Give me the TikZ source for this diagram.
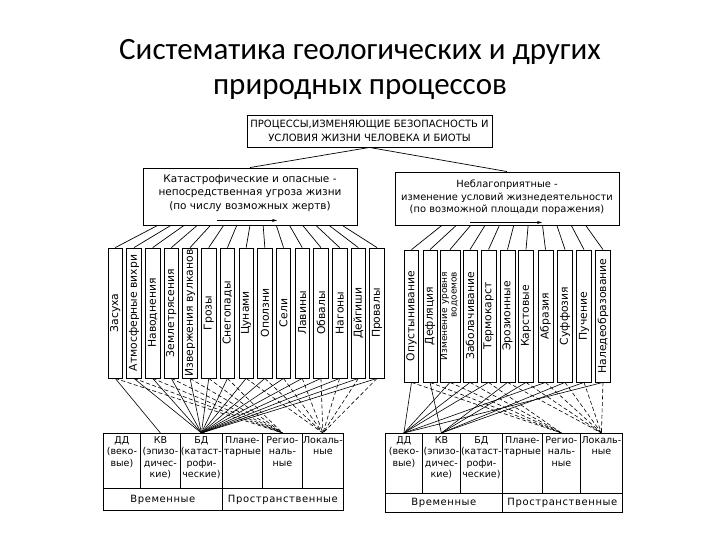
\documentclass[tikz,border=0pt]{standalone}
\usepackage{fontspec}
\usepackage{graphicx}
\setmainfont{DejaVu Sans}
\newfontfamily\titlefont{Carlito}
\newfontfamily\spacedfont[LetterSpace=6]{DejaVu Sans}
\usetikzlibrary{arrows.meta, calc}

\begin{document}
\begin{tikzpicture}[x=1pt, y=-1pt, >=Stealth,
    bigbox/.style={draw, line width=0.9pt, inner sep=0pt},
    boxtext/.style={align=center, inner sep=0pt, font=\fontsize{10.5}{13.5}\selectfont},
    vbox/.style={draw, line width=0.8pt, inner sep=0pt, minimum height=130pt,
                 font=\fontsize{10.8}{12}\selectfont},
    cell/.style={draw, line width=0.8pt, inner sep=0pt},
    celltext/.style={align=center, inner sep=0pt, font=\fontsize{9.5}{11.5}\selectfont},
    rowtext/.style={font=\spacedfont\fontsize{10}{12}\selectfont},
    fan/.style={line width=0.7pt},
    link/.style={line width=0.6pt},
    dlink/.style={line width=0.6pt, dash pattern=on 4pt off 2.5pt},
    inarrow/.style={line width=0.7pt, -{Stealth[length=5pt, width=3pt]}}]

  \useasboundingbox (0,0) rectangle (720,540);

  % title
  \node[font=\titlefont\fontsize{31}{35}\selectfont, align=center] (title) at (360,69)
    {Систематика геологических и других\\природных процессов};

  % top level
  \node[bigbox, minimum width=245pt, minimum height=32pt, boxtext,
        font=\fontsize{10}{14}\selectfont] (top) at (369.5,131)
    {ПРОЦЕССЫ,ИЗМЕНЯЮЩИЕ БЕЗОПАСНОСТЬ И\\УСЛОВИЯ ЖИЗНИ ЧЕЛОВЕКА И БИОТЫ};

  % two groups
  \node[bigbox, minimum width=214pt, minimum height=57pt] (cat) at (250,196.5) {};
  \node[boxtext] (cat-t) at ([yshift=3.5pt]cat.center)
    {Катастрофические и опасные -\\непосредственная угроза жизни\\(по числу возможных жертв)};
  \draw[inarrow] ([xshift=-33pt, yshift=5pt]cat.south) -- ([xshift=27pt, yshift=5pt]cat.south);

  \node[bigbox, minimum width=224pt, minimum height=53pt] (adv) at (507,198.5) {};
  \node[boxtext, font=\fontsize{9.9}{12.5}\selectfont] (adv-t) at ([yshift=1pt]adv.center)
    {Неблагоприятные -\\изменение условий жизнедеятельности\\(по возможной площади поражения)};
  \draw[inarrow] ([xshift=-37pt, yshift=3pt]adv.south) -- ([xshift=35pt, yshift=3pt]adv.south);

  \draw[fan] (top.south) -- (cat.north);
  \draw[fan] (top.south) -- (adv.north);

  % processes, left group
  \foreach \i/\lbl in {1/Засуха, 2/Атмосферные вихри, 3/Наводнения, 4/Землетрясения,
      5/Извержения вулканов, 6/Грозы, 7/Снегопады, 8/Цунами, 9/Оползни, 10/Сели,
      11/Лавины, 12/Обвалы, 13/Нагоны, 14/Дейгиши, 15/Провалы}{
    \node[vbox, minimum width=14.5pt] (lv\i) at ({115.25+18.7*(\i-1)},313)
      {\rotatebox{90}{\lbl}};
    \draw[fan] ($(cat.south west)!{0.07+0.0614*(\i-1)}!(cat.south east)$) -- (lv\i.north);
  }

  % processes, right group
  \foreach \i/\x/\w/\lbl in {1/411.5/14/Опустынивание, 2/430/14/Дефляция,
      3/450/20/{\fontsize{9}{9.5}\selectfont\begin{tabular}{@{}r@{}}Изменение уровня\\водоемов\end{tabular}},
      4/470/14/Заболачивание, 5/488.5/15/Термокарст, 6/507.5/15/Эрозионные,
      7/526/15/Карстовые, 8/545.5/15/Абразия, 9/565/15/Суффозия,
      10/584/15/Пучение, 11/603/15/Наледеобразование}{
    \node[vbox, minimum width=\w*1pt, minimum height=132pt] (rv\i) at (\x,316)
      {\rotatebox{90}{\lbl}};
    \draw[fan] ($(adv.south west)!{0.21+0.064*(\i-1)}!(adv.south east)$) -- (rv\i.north);
  }

  % left table
  \foreach \nm/\x/\w/\lbl in {ldd/103/37/{ДД\\(веко-\\вые)}, lkv/140/40/{КВ\\(эпизо-\\дичес-\\кие)},
      lbd/180/42/{БД\\(катаст-\\рофи-\\ческие)}, lpl/222/40/{Плане-\\тарные},
      lrg/262/40/{Регио-\\наль-\\ные}, llc/302/41/{Локаль-\\ные}}{
    \node[cell, minimum width=\w*1pt, minimum height=55pt, anchor=north west] (\nm) at (\x,433) {};
    \node[celltext, anchor=north] (\nm-t) at ([yshift=-3pt]\nm.north) {\lbl};
  }
  \node[cell, rowtext, minimum width=119pt, minimum height=22pt, anchor=north west] (ltime)
    at (103,488) {Временные};
  \node[cell, rowtext, minimum width=121pt, minimum height=22pt, anchor=north west] (lspace)
    at (222,488) {Пространственные};

  % right table
  \foreach \nm/\x/\w/\lbl in {rdd/385/37/{ДД\\(веко-\\вые)}, rkv/422/38/{КВ\\(эпизо-\\дичес-\\кие)},
      rbd/460/42/{БД\\(катаст-\\рофи-\\ческие)}, rpl/502/40/{Плане-\\тарные},
      rrg/542/38/{Регио-\\наль-\\ные}, rlc/580/42/{Локаль-\\ные}}{
    \node[cell, minimum width=\w*1pt, minimum height=60pt, anchor=north west] (\nm) at (\x,433) {};
    \node[celltext, anchor=north] (\nm-t) at ([yshift=-3pt]\nm.north) {\lbl};
  }
  \node[cell, rowtext, minimum width=117pt, minimum height=19pt, anchor=north west] (rtime)
    at (385,493) {Временные};
  \node[cell, rowtext, minimum width=120pt, minimum height=19pt, anchor=north west] (rspace)
    at (502,493) {Пространственные};

  % links, left group
  \draw[link] (lv1.south) -- (lkv.north);
  \foreach \i in {2,...,15} \draw[link] (lv\i.south) -- (lbd.north);
  \foreach \i in {1,...,7} \draw[dlink] (lv\i.south) -- (lrg.north);
  \foreach \i in {8,...,15} \draw[dlink] (lv\i.south) -- (llc.north);

  % links, right group
  \foreach \i in {1,3,4,5,8,11} \draw[link] (rv\i.south) -- (rdd.north);
  \foreach \i in {2,6,7,9,10} \draw[link] (rv\i.south) -- (rkv.north);
  \foreach \i in {1,...,5} \draw[dlink] (rv\i.south) -- (rrg.north);
  \foreach \i in {6,...,11} \draw[dlink] (rv\i.south) -- (rlc.north);
\end{tikzpicture}
\end{document}
